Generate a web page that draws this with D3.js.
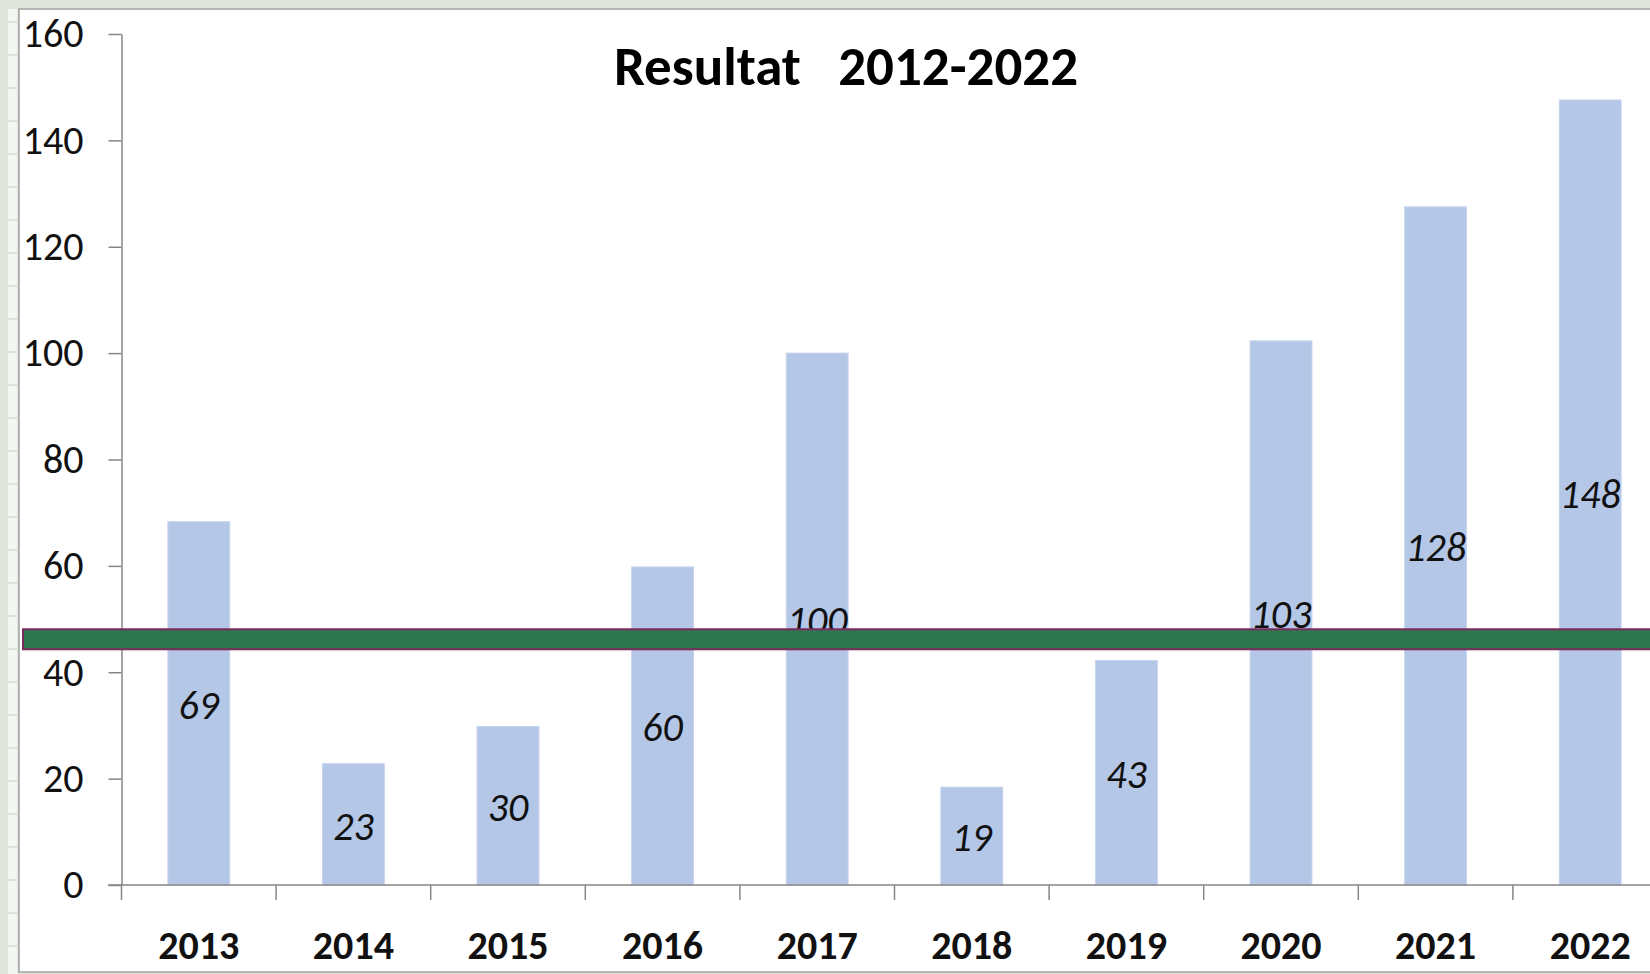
<!DOCTYPE html>
<html>
<head>
<meta charset="utf-8">
<script src="https://cdn.jsdelivr.net/npm/d3@7"></script>
<style>
  html, body { margin: 0; padding: 0; background: #dfe5db; }
  svg { display: block; font-family: Carlito, Calibri, Lato, sans-serif; }
</style>
</head>
<body>
<svg width="1650" height="974"></svg>
<script>
// chart data
const years = ['2013', '2014', '2015', '2016', '2017', '2018', '2019', '2020', '2021', '2022'];
const values = [68.3, 22.8, 29.8, 59.8, 100, 18.4, 42.2, 102.3, 127.5, 147.6]; // bar heights as drawn
const labels = ['69', '23', '30', '60', '100', '19', '43', '103', '128', '148']; // printed data labels
const yTicks = [0, 20, 40, 60, 80, 100, 120, 140, 160];
const bandValue = 46.2; // the green marker line
const title = 'Resultat   2012-2022';

const svg = d3.select('svg');

// sheet-like frame
svg.append('rect')
  .attr('x', 19).attr('y', 9)
  .attr('width', 1640).attr('height', 963)
  .attr('fill', '#fff')
  .attr('stroke', '#a3a3a3')
  .attr('stroke-width', 1.5);

const strip = svg.append('g');
strip.append('rect')
  .attr('x', 8).attr('y', 9).attr('width', 9).attr('height', 965)
  .attr('fill', '#f4f6f2');
strip.selectAll('line')
  .data(d3.range(22, 974, 33))
  .enter().append('line')
  .attr('x1', 8).attr('x2', 17)
  .attr('y1', d => d).attr('y2', d => d)
  .attr('stroke', '#c8cec4');

// scales
const x = d3.scaleBand()
  .domain(years)
  .range([121.5, 1667.5])
  .paddingInner(0.6)
  .paddingOuter(0.3);

const y = d3.scaleLinear()
  .domain([0, 160])
  .range([885, 34]);

// bars
svg.selectAll('.bar')
  .data(years)
  .enter().append('rect')
  .attr('class', 'bar')
  .attr('x', d => x(d))
  .attr('width', x.bandwidth())
  .attr('y', (d, i) => y(values[i]))
  .attr('height', (d, i) => y(0) - y(values[i]))
  .attr('fill', '#b4c7e7')
  .attr('stroke', '#c5d4ee')
  .attr('stroke-width', 1);

// value labels in the middle of each bar
svg.selectAll('.val')
  .data(years)
  .enter().append('text')
  .attr('class', 'val')
  .attr('x', d => x(d) + x.bandwidth() / 2)
  .attr('y', (d, i) => (y(values[i]) + y(0)) / 2)
  .attr('dy', '0.38em')
  .attr('text-anchor', 'middle')
  .attr('font-size', 40)
  .attr('font-style', 'italic')
  .attr('fill', '#111')
  .text((d, i) => labels[i]);

// y axis
const yAxis = svg.append('g')
  .attr('transform', 'translate(121.5,0)')
  .call(d3.axisLeft(y).tickValues(yTicks).tickSizeInner(13).tickSizeOuter(0).tickPadding(25));
yAxis.selectAll('path, line').attr('stroke', '#868686').attr('stroke-width', 1.5);
yAxis.selectAll('text')
  .attr('font-size', 40)
  .attr('font-family', 'Carlito, Calibri, Lato, sans-serif')
  .attr('fill', '#111');

// x axis: line, boundary ticks, bold year labels
const xAxis = svg.append('g')
  .attr('transform', 'translate(0,' + y(0) + ')');
xAxis.append('line')
  .attr('x1', 108).attr('x2', 1667)
  .attr('stroke', '#868686').attr('stroke-width', 1.5);
xAxis.selectAll('.tick')
  .data(years)
  .enter().append('line')
  .attr('class', 'tick')
  .attr('x1', d => x(d) - x.step() * 0.3)
  .attr('x2', d => x(d) - x.step() * 0.3)
  .attr('y1', 0).attr('y2', 15)
  .attr('stroke', '#868686').attr('stroke-width', 1.5);
xAxis.selectAll('.yr')
  .data(years)
  .enter().append('text')
  .attr('class', 'yr')
  .attr('x', d => x(d) + x.bandwidth() / 2)
  .attr('y', 74)
  .attr('text-anchor', 'middle')
  .attr('font-size', 40)
  .attr('font-weight', 'bold')
  .attr('fill', '#111')
  .text(d => d);

// green marker band across the chart
svg.append('rect')
  .attr('x', 23)
  .attr('y', y(bandValue) - 10)
  .attr('width', 1650)
  .attr('height', 20)
  .attr('fill', '#2e7750')
  .attr('stroke', '#7a2b5c')
  .attr('stroke-width', 2);

// title
svg.append('text')
  .attr('x', 846)
  .attr('y', 85)
  .attr('text-anchor', 'middle')
  .attr('font-size', 55)
  .attr('font-weight', 'bold')
  .attr('fill', '#000')
  .style('white-space', 'pre')
  .text(title);
</script>
</body>
</html>
